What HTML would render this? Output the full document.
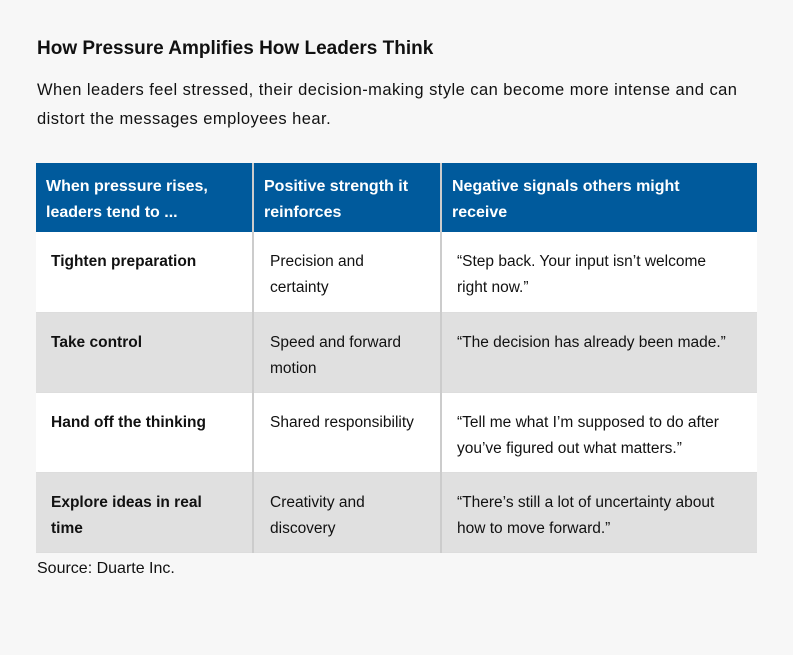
<!DOCTYPE html>
<html><head><meta charset="utf-8"><style>
body{margin:0;width:793px;height:655px;background:#f7f7f7;font-family:"Liberation Sans",sans-serif;color:#111;position:relative;overflow:hidden}
.t{position:absolute;left:37px;top:38px;font-size:19px;font-weight:bold;letter-spacing:0px}
.s{position:absolute;left:37px;top:76px;width:712px;font-size:16.5px;line-height:29px;letter-spacing:0.45px}
table{position:absolute;left:36px;top:163px;width:721px;border-collapse:collapse;table-layout:fixed}
th{background:#005a9c;color:#fff;text-align:left;font-weight:bold;font-size:16px;line-height:26px;height:69px;padding:11px 10px 0;vertical-align:top;box-sizing:border-box;border-right:2px solid #ccc}
th:last-child{padding-right:50px}
td{height:80px;font-size:15.5px;line-height:26px;vertical-align:top;padding:17px 15px 0 16px;box-sizing:border-box;border-right:2px solid #ccc;border-bottom:1px solid #ddd}
td:last-child{padding-left:15px;padding-right:25px}
th:last-child,td:last-child{border-right:none}
tr.g td{background:#e0e0e0}
tr.w td{background:#fff}
td.c1{font-weight:bold;padding-left:15px}
.src{position:absolute;left:37px;top:560px;font-size:16px}
</style></head><body>
<div class="t">How Pressure Amplifies How Leaders Think</div>
<div class="s">When leaders feel stressed, their decision-making style can become more intense and can distort the messages employees hear.</div>
<table>
<colgroup><col style="width:217px"><col style="width:188px"><col style="width:316px"></colgroup>
<tr><th>When pressure rises, leaders tend to ...</th><th>Positive strength it reinforces</th><th>Negative signals others might receive</th></tr>
<tr class="w"><td class="c1">Tighten preparation</td><td>Precision and certainty</td><td>“Step back. Your input isn’t welcome right now.”</td></tr>
<tr class="g"><td class="c1">Take control</td><td>Speed and forward motion</td><td>“The decision has already been made.”</td></tr>
<tr class="w"><td class="c1">Hand off the thinking</td><td>Shared responsibility</td><td>“Tell me what I’m supposed to do after you’ve figured out what matters.”</td></tr>
<tr class="g"><td class="c1">Explore ideas in real time</td><td>Creativity and discovery</td><td>“There’s still a lot of uncertainty about how to move forward.”</td></tr>
</table>
<div class="src">Source: Duarte Inc.</div>
</body></html>
